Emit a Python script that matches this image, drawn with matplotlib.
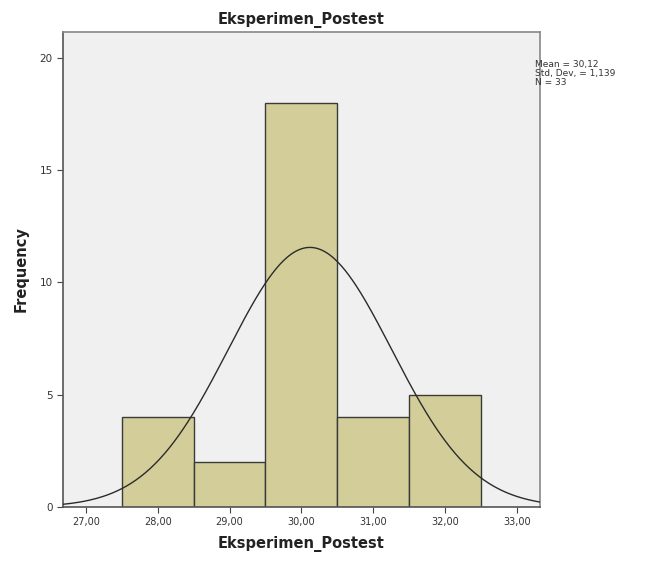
import numpy as np
import matplotlib.pyplot as plt

# --- Data ---
bin_centers = [28, 29, 30, 31, 32]
counts = [4, 2, 18, 4, 5]
mean = 30.12
std = 1.139
n = 33
x_ticks = [27, 28, 29, 30, 31, 32, 33]
y_ticks = [0, 5, 10, 15, 20]

fig = plt.figure(figsize=(6.46, 5.61), dpi=100)
ax = fig.add_axes([63 / 646, 1 - 507 / 561, (540 - 63) / 646, (507 - 32) / 561])
ax.set_facecolor('#f0f0f0')

ax.bar(bin_centers, counts, width=1.0, color='#d3ce99', edgecolor='#3a3a3a', linewidth=1.0, zorder=2)

# normal curve scaled to counts (bin width 1)
xs = np.linspace(26.68, 33.325, 400)
ys = n * np.exp(-0.5 * ((xs - mean) / std) ** 2) / (std * np.sqrt(2 * np.pi))
ax.plot(xs, ys, color='#2b2b2b', linewidth=1.0, zorder=3)

ax.set_xlim(26.68, 33.325)
ax.set_ylim(0, 21.15)
ax.set_xticks(x_ticks)
ax.set_xticklabels([f"{t:.2f}".replace('.', ',') for t in x_ticks], fontsize=7, color='#333333')
ax.set_yticks(y_ticks)
ax.set_yticklabels([str(t) for t in y_ticks], fontsize=7.5, color='#333333')
ax.tick_params(length=4, width=0.8, color='#444444')

for side in ['left', 'bottom']:
    ax.spines[side].set_color('#555555')
    ax.spines[side].set_linewidth(1.2)
for side in ['top', 'right']:
    ax.spines[side].set_color('#888888')
    ax.spines[side].set_linewidth(1.2)

ax.set_title('Eksperimen_Postest', fontsize=10.5, fontweight='bold', color='#222222', pad=6)
ax.set_xlabel('Eksperimen_Postest', fontsize=10.5, fontweight='bold', color='#222222', labelpad=6)
ax.set_ylabel('Frequency', fontsize=10.5, fontweight='bold', color='#222222', labelpad=8)

fig.text(535 / 646, 1 - 60 / 561,
         f"Mean = {mean:.2f}".replace('.', ',') + "\n"
         + f"Std. Dev. = {std:.3f}".replace('.', ',') + "\n"
         + f"N = {n}",
         fontsize=6.5, color='#333333', va='top', ha='left', linespacing=1.0)

fig.savefig('out.png', dpi=100)
